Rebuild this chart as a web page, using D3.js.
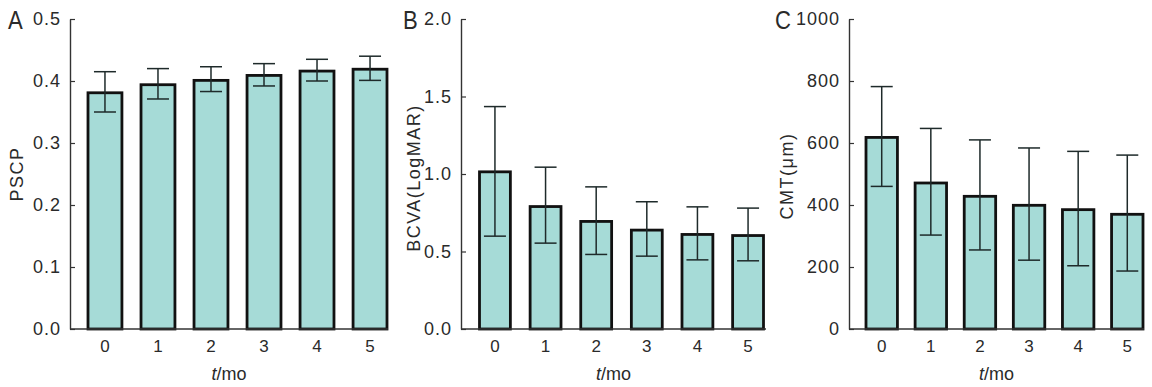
<!DOCTYPE html>
<html>
<head>
<meta charset="utf-8">
<script src="https://cdn.jsdelivr.net/npm/d3@7"></script>
<style>
  body { margin: 0; background: #fff; }
  svg text { font-family: "Liberation Sans", Arial, sans-serif; fill: #2a2a2a; }
</style>
</head>
<body>
<svg id="chart" width="1152" height="387"></svg>
<script>
// months after treatment
var months = ["0", "1", "2", "3", "4", "5"];

// A: PSCP
var pscpMean = [0.381, 0.394, 0.401, 0.409, 0.416, 0.419];
var pscpHigh = [0.415, 0.420, 0.423, 0.428, 0.435, 0.440];
var pscpLow  = [0.350, 0.371, 0.383, 0.392, 0.400, 0.401];
var pscpTicks = [0, 0.1, 0.2, 0.3, 0.4, 0.5];

// B: BCVA
var bcvaMean = [1.014, 0.790, 0.694, 0.638, 0.610, 0.603];
var bcvaHigh = [1.435, 1.044, 0.917, 0.821, 0.788, 0.780];
var bcvaLow  = [0.599, 0.554, 0.481, 0.470, 0.446, 0.440];
var bcvaTicks = [0, 0.5, 1.0, 1.5, 2.0];

// C: CMT
var cmtMean = [618, 471, 428, 399, 385, 370];
var cmtHigh = [782, 647, 610, 584, 573, 561];
var cmtLow  = [460, 303, 255, 222, 204, 187];
var cmtTicks = [0, 200, 400, 600, 800, 1000];

var svg = d3.select("#chart");
var plotTop = 19, plotBottom = 329;

var panels = [
    {letter: "A", letterX: 8, axisL: 70, axisR: 388, barL: 88, barR: 387, inner: 0.36,
     max: 0.5, ticks: pscpTicks, fmt: d3.format(".1f"), label: "PSCP", labelX: 17, labelY: 174,
     mean: pscpMean, hi: pscpHigh, lo: pscpLow},
    {letter: "B", letterX: 403, axisL: 461, axisR: 766, barL: 479.5, barR: 763.5, inner: 0.39,
     max: 2.0, ticks: bcvaTicks, fmt: d3.format(".1f"), label: "BCVA(LogMAR)", labelX: 414, labelY: 178,
     mean: bcvaMean, hi: bcvaHigh, lo: bcvaLow},
    {letter: "C", letterX: 775, axisL: 849, axisR: 1144, barL: 866, barR: 1143, inner: 0.36,
     max: 1000, ticks: cmtTicks, fmt: d3.format("d"), label: "CMT(\u03bcm)", labelX: 787, labelY: 176,
     mean: cmtMean, hi: cmtHigh, lo: cmtLow}
];

panels.forEach(function(p){
    var g = svg.append("g");

    // bars sit flush with the right end of the axis, so the band range is not the axis range
    var step = (p.barR - p.barL) / (months.length - p.inner);
    var x = d3.scaleBand()
        .domain(months)
        .range([p.barL - step * p.inner / 2, p.barR + step * p.inner / 2])
        .paddingInner(p.inner)
        .paddingOuter(p.inner / 2);
    var y = d3.scaleLinear().domain([0, p.max]).range([plotBottom, plotTop]);

    var data = months.map(function(m, i){
        return {m: m, mean: p.mean[i], hi: p.hi[i], lo: p.lo[i]};
    });

    g.selectAll("rect.bar")
        .data(data)
        .enter()
        .append("rect")
        .attr("class", "bar")
        .attr("x", function(d){ return x(d.m); })
        .attr("y", function(d){ return y(d.mean); })
        .attr("width", x.bandwidth())
        .attr("height", function(d){ return y(0) - y(d.mean); })
        .attr("fill", "#a6dbd7")
        .attr("stroke", "#111")
        .attr("stroke-width", 2.8);

    // error bars
    var eb = g.selectAll("g.err").data(data).enter().append("g").attr("class", "err")
        .attr("stroke", "#1e2a2a").attr("stroke-width", 1.5);
    var cx = function(d){ return x(d.m) + x.bandwidth() / 2; };
    var cap = 11;
    eb.append("line")
        .attr("x1", cx).attr("x2", cx)
        .attr("y1", function(d){ return y(d.hi); })
        .attr("y2", function(d){ return y(d.lo); });
    eb.append("line")
        .attr("x1", function(d){ return cx(d) - cap; }).attr("x2", function(d){ return cx(d) + cap; })
        .attr("y1", function(d){ return y(d.hi); }).attr("y2", function(d){ return y(d.hi); });
    eb.append("line")
        .attr("x1", function(d){ return cx(d) - cap; }).attr("x2", function(d){ return cx(d) + cap; })
        .attr("y1", function(d){ return y(d.lo); }).attr("y2", function(d){ return y(d.lo); });

    // y axis, ticks point inward
    var yAxis = g.append("g")
        .attr("transform", "translate(" + p.axisL + ",0)")
        .call(d3.axisLeft(y).tickValues(p.ticks).tickFormat(p.fmt)
            .tickSizeInner(-5).tickSizeOuter(0).tickPadding(9));
    yAxis.select(".domain").attr("stroke", "#333").attr("stroke-width", 1.4);
    yAxis.selectAll(".tick line").attr("stroke", "#333").attr("stroke-width", 1.2);
    yAxis.selectAll(".tick text")
        .style("font-size", "18px").style("font-family", "Liberation Sans, Arial, sans-serif")
        .style("letter-spacing", "1px")
        .attr("fill", "#2a2a2a");

    // x axis line, no ticks
    g.append("line")
        .attr("x1", p.axisL).attr("x2", p.axisR)
        .attr("y1", plotBottom).attr("y2", plotBottom)
        .attr("stroke", "#333").attr("stroke-width", 1.4);

    g.selectAll("text.xt")
        .data(months)
        .enter()
        .append("text")
        .attr("class", "xt")
        .attr("x", function(d){ return x(d) + x.bandwidth() / 2; })
        .attr("y", 352)
        .attr("text-anchor", "middle")
        .style("font-size", "17px")
        .text(function(d){ return d; });

    var xl = g.append("text")
        .attr("x", (p.axisL + p.axisR) / 2)
        .attr("y", 380)
        .attr("text-anchor", "middle")
        .style("font-size", "18px");
    xl.append("tspan").style("font-style", "italic").text("t");
    xl.append("tspan").text("/mo");

    g.append("text")
        .attr("transform", "translate(" + p.labelX + "," + p.labelY + ") rotate(-90)")
        .attr("text-anchor", "middle")
        .attr("dy", "0.35em")
        .style("font-size", "18px")
        .style("letter-spacing", "1.5px")
        .text(p.label);

    // panel letter, narrow face
    g.append("text")
        .attr("transform", "translate(" + p.letterX + ",29) scale(0.85,1)")
        .style("font-size", "26px")
        .text(p.letter);
});
</script>
</body>
</html>
